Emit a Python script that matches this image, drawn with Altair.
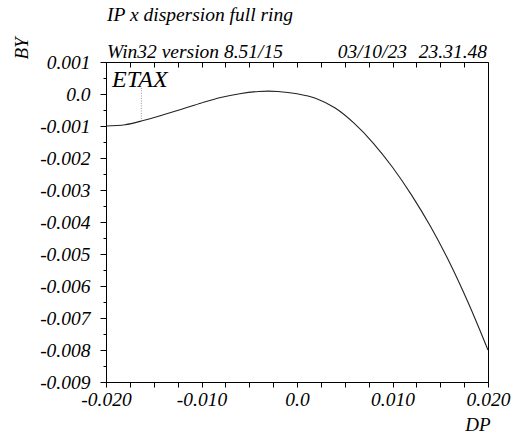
import altair as alt
import pandas as pd

# ---- data ----
dp = [-0.020, -0.018, -0.016, -0.014, -0.012, -0.010, -0.008, -0.006, -0.004,
      -0.003, -0.002, 0.000, 0.002, 0.004, 0.006, 0.008, 0.010, 0.012, 0.014,
      0.016, 0.018, 0.020]
by = [-0.00100, -0.00096, -0.00082, -0.00065, -0.00047, -0.00028, -0.00011,
      0.00001, 0.00008, 0.00009, 0.00008, 0.00001, -0.00014, -0.00044, -0.00092,
      -0.00154, -0.00229, -0.00316, -0.00415, -0.00528, -0.00657, -0.00800]

etax_dp = [-0.0163]
etax_top = [0.00019]
etax_bottom = [-0.00083]

x_ticks = [-0.020, -0.0175, -0.015, -0.0125, -0.010, -0.0075, -0.005, -0.0025,
           0.0, 0.0025, 0.005, 0.0075, 0.010, 0.0125, 0.015, 0.0175, 0.020]
y_major = [0.001, 0.0, -0.001, -0.002, -0.003, -0.004, -0.005, -0.006,
           -0.007, -0.008, -0.009]
y_minor = [0.0005, -0.0005, -0.0015, -0.0025, -0.0035, -0.0045, -0.0055,
           -0.0065, -0.0075, -0.0085]

title_text = "IP x dispersion full ring"
version_text = "Win32 version 8.51/15"
date_text = "03/10/23"
time_text = "23.31.48"
label_text = "ETAX"

df = pd.DataFrame({"dp": dp, "by": by})
df_etax = pd.DataFrame({"dp": etax_dp, "top": etax_top, "bottom": etax_bottom})

FONT = "Liberation Serif"
xs = alt.Scale(domain=[-0.020, 0.020], nice=False, zero=False)
ys = alt.Scale(domain=[-0.009, 0.001], nice=False, zero=False)

x_label_expr = ("abs(datum.value) < 1e-9 ? '0.0' : "
                "(abs(datum.value*100 - round(datum.value*100)) < 1e-6 ? "
                "replace(format(datum.value, '.3f'), '\u2212', '-') : '')")
y_label_expr = ("abs(datum.value) < 1e-9 ? '0.0' : "
                "replace(format(datum.value, '.3f'), '\u2212', '-')")

common_axis = dict(grid=False, domainColor="black", tickColor="black",
                   labelFont=FONT, labelFontStyle="italic", labelFontSize=19.5,
                   labelColor="black", titleFont=FONT, titleFontStyle="italic",
                   titleFontWeight="normal", titleColor="black",
                   labelOverlap=False, labelFlush=False)

x_bottom = alt.Axis(orient="bottom", values=x_ticks, labelExpr=x_label_expr,
                    tickSize=5, labelPadding=3, title="DP", titleFontSize=19,
                    titleX=384, titleY=48, titleAlign="right",
                    titleBaseline="alphabetic", titleAnchor="end", **common_axis)
y_left = alt.Axis(orient="left", values=y_major, labelExpr=y_label_expr,
                  tickSize=6, labelPadding=10, title="BY", titleFontSize=19,
                  titleX=-85, titleY=-14, titleAngle=-90, titleAlign="center",
                  titleBaseline="middle", **common_axis)

line = alt.Chart(df).mark_line(color="#222222", strokeWidth=1.1,
                               interpolate="monotone").encode(
    x=alt.X("dp:Q", scale=xs, axis=x_bottom),
    y=alt.Y("by:Q", scale=ys, axis=y_left),
)

y_minor_axis = alt.Axis(orient="left", values=y_minor, labels=False, tickSize=3,
                        domain=False, title=None, grid=False, tickColor="black")
x_top_axis = alt.Axis(orient="top", values=x_ticks, labels=False, tickSize=5,
                      offset=-5, domain=False, title=None, grid=False,
                      tickColor="black")

etax_rule = alt.Chart(df_etax).mark_rule(color="#777777", strokeWidth=0.8,
                                         strokeDash=[1, 1.5]).encode(
    x=alt.X("dp:Q", scale=xs, axis=x_top_axis),
    y=alt.Y("top:Q", scale=ys, axis=y_minor_axis),
    y2="bottom:Q",
)

def txt(s, x, y, size, align="left"):
    return alt.Chart(pd.DataFrame({"t": [s]})).mark_text(
        font=FONT, fontStyle="italic", fontSize=size, color="black",
        align=align, baseline="alphabetic").encode(
        text="t:N", x=alt.value(x), y=alt.value(y))

texts = (txt(title_text, 1, -41, 19.5)
         + txt(version_text, 1, -4.5, 19.5)
         + txt(date_text, 301, -4.5, 19.5, "right")
         + txt(time_text, 381, -4.5, 19.5, "right")
         + txt(label_text, 6, 25, 24))

chart = alt.layer(line, etax_rule, texts).resolve_axis(
    x="independent", y="independent"
).properties(
    width=382, height=320,
    autosize=alt.AutoSizeParams(type="none"),
    padding={"left": 106, "top": 62, "right": 28, "bottom": 54},
).configure_view(stroke="black", strokeWidth=1)

chart.save("out.html", embed_options={"renderer": "svg", "actions": False})
